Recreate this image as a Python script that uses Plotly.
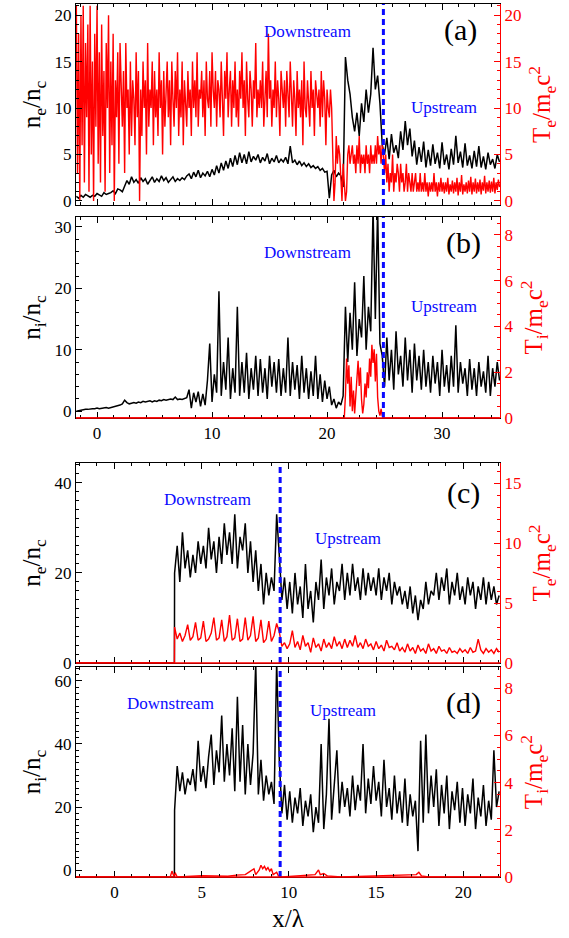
import numpy as np
import plotly.graph_objects as go

# ---------------- panel (a): electron density / temperature, run 1 ----------------
A_X0, A_DX = -1.8, 0.2          # density sample grid for panels (a) and (b)
TE_A_DX = 0.1                   # finer grid for the electron temperature of (a)
ne_a = [0.5,0.3,0.6,0.4,0.7,0.5,0.4,0.6,0.5,0.8,0.6,0.5,0.9,0.7,0.8,
        0.9,1.1,0.8,1.3,1.2,1.0,1.6,
        2.2,1.8,2.6,2.0,2.3,1.9,2.5,2.1,2.4,1.8,2.2,2.6,2.0,
        2.4,2.1,2.7,2.2,2.5,2.0,2.3,2.6,2.1,2.4,2.2,2.5,2.3,2.7,
        2.9,2.4,3.1,2.6,3.3,2.5,3.0,2.7,3.2,2.6,
        3.4,2.8,3.8,3.0,4.1,3.3,4.3,3.5,4.6,3.7,
        4.9,3.9,5.2,4.1,5.0,4.0,5.3,4.2,4.8,4.4,
        5.0,4.1,4.7,4.3,5.1,4.0,4.6,4.2,4.9,4.1,
        4.5,4.2,4.7,4.0,5.9,4.1,4.4,3.9,4.3,3.8,
        4.1,3.7,4.0,3.6,3.8,3.5,3.7,3.3,3.5,3.1,
        3.2,0.3,2.8,3.3,2.6,3.0,2.7,1.5,
        15.5,13.0,11.5,9.0,7.5,9.5,7.0,10.5,8.5,12.0,9.5,11.5,16.5,12.0,13.5,10.5,6.0,
        5.0,6.8,4.5,7.2,5.2,6.0,4.6,7.5,5.5,8.6,
        6.0,7.8,4.8,6.5,3.9,5.8,4.2,6.4,3.6,5.5,
        3.8,6.1,4.0,5.2,3.5,6.3,3.9,5.0,3.4,5.6,
        3.9,7.0,4.1,5.3,3.6,6.2,3.8,4.9,3.5,5.4,
        3.7,5.9,3.6,4.8,3.4,5.2,3.9,4.5,3.5,5.0,4.2]
# one row per unit of x, starting at x = -1.8
te_a = [21,3,18,0,20,6,21,2,17,9,
        19,1,21,5,15,0,18,8,21,4,
        16,2,19,7,14,1,17,10,20,3,
        15,6,18,0,13,9,16,4,17,11,
        8,14,3,17,10,12,5,15,7,13,
        11,6,16,9,14,0,12,7,15,10,
        13,5,17,8,12,10,15,6,14,9,
        12,7,16,10,13,5,14,8,11,15,
        9,13,6,15,11,8,14,10,16,7,
        12,9,15,6,13,11,8,14,10,12,
        7,15,10,13,9,16,8,12,11,14,
        9,13,7,15,11,10,14,8,16,12,
        10,14,8,13,12,9,15,11,7,14,
        11,16,9,12,14,8,13,10,15,9,
        12,8,14,11,16,10,13,7,15,11,
        9,14,12,8,13,11,17,9,12,10,
        13,10,15,8,12,14,9,18,11,13,
        8,12,10,15,9,13,11,7,14,12,
        10,13,8,14,11,9,15,12,8,13,
        11,7,14,10,12,9,13,6,15,10,
        9,13,11,8,14,10,12,7,13,11,
        10,12,8,14,9,13,11,6,12,10,
        9,12,10,5,0,2,7,4,6,5,
        3,0,4,2,0,1,5,6,4,5,
        6,4,5,3,6,4,7,3,5,4,
        5,3,6,4,5,3,6,4,5,4,
        6,4,7,5,6,4,6,5,3,5,
        2,4,1,3,2,5,1,3,2,4,
        3,1,4,2,3,1,2,4,1,3,
        2,1,3,1,2,3,1,2,1,3,
        1,2,1,3,1,2,0.5,2,1,2,
        1,3,1,2,0.5,2,1,2.5,1,2,
        0.8,2,1,2.5,0.7,1.8,1,2.2,0.8,2,
        1,2.5,0.6,2,1,2.8,0.7,1.8,1,2,
        0.8,2.2,1,2.6,0.7,2,1,2.4,0.8,2,
        1,2.3,0.7,2,1.1,2.7,0.8,2,1,2.2,
        0.9,2.1,1,2.5,0.8,2,1.2,2.3,1.5]

# ---------------- panel (b): ion density / temperature, run 1 ----------------
ni_b = [0.0,0.1,0.2,0.2,0.3,0.3,0.4,0.4,0.4,0.5,0.4,0.5,0.5,0.6,0.5,
        0.6,0.6,0.7,0.8,1.0,1.2,1.8,
        1.4,1.2,1.3,1.4,1.3,1.5,1.4,1.6,1.5,1.6,1.7,1.5,1.7,
        1.6,1.8,1.7,1.9,1.8,1.9,2.0,1.9,2.3,1.9,2.0,1.9,2.1,2.2,
        3.5,0.5,3.0,1.5,3.2,0.8,2.8,1.0,5.0,11.0,
        1.5,6.0,3.0,19.5,2.5,8.0,3.5,12.0,2.0,7.0,
        3.0,17.0,2.5,8.0,3.0,9.5,2.0,7.0,3.5,9.0,
        2.5,8.5,3.0,7.0,2.0,9.0,4.0,8.0,3.0,8.5,
        2.5,7.0,3.0,12.0,2.5,8.0,3.5,7.5,2.0,9.0,
        3.0,7.0,2.0,6.5,2.5,9.0,2.0,6.0,1.5,5.0,
        2.0,4.0,1.0,2.0,0.5,1.5,1.0,2.5,
        17,8,16,10,21,9,15,12,22,10,17,13,33,15,33,11,9,
        4,12,5,10,3.5,13,6,9,4,12,
        5,10,3,11,5,9,3.5,10,4,8,
        3,9,4.5,8,2.5,10,4,7.5,3,9,
        4,14,3,8,4.5,7,2.5,8.5,3.5,7,
        2.5,8,4,6.5,3,9,2.5,7,4,8,5]
# ion temperature is only non-zero inside the compressed layer
ti_b_x = [-1.8, 21.5,
          21.6,21.7,21.8,21.9,22.0,22.1,22.2,22.3,22.4,22.5,22.6,
          22.7,22.8,22.9,23.0,23.1,23.2,23.3,23.4,23.5,23.6,23.7,
          23.8,23.9,24.0,24.1,24.2,24.3,24.4,24.5,24.6,24.7,24.8,
          24.9, 35.0]
ti_b = [0.0, 0.0,
        1.0,2.6,1.5,2.3,0.5,1.8,0.3,1.2,0.2,0.9,1.9,
        2.5,1.4,2.2,0.8,0.2,0.6,1.5,0.9,2.0,1.3,2.6,
        1.8,3.2,2.4,3.0,1.6,2.8,0.9,0.3,0.1,0.4,0.1,
        0.0, 0.0]

# ---------------- panels (c), (d): run 2 ----------------
CD_X0, CD_DX = 3.45, 0.15       # sample grid behind the density jump
pre_x = [-2.2, 3.44]            # unperturbed region ahead of the jump
pre_c = [0.0, 0.0]
pre_d = [-2.2, -2.2]
ne_c = [20,26,18,29,21,25,19,24,20,27,22,
        26,21,30,23,27,20,28,22,31,24,29,
        22,33,21,28,25,31,20,27,18,25,16,
        22,13,20,15,19,16,33,24,14,19,12,
        18,11,20,13,17,10,22,12,16,9,18,
        14,23,12,19,15,21,13,18,16,22,14,
        20,15,22,16,19,14,21,15,20,16,19,
        15,21,14,19,16,20,13,18,15,17,13,
        16,12,17,11,15,9.5,14,12,18,13,16,
        15,20,14,19,16,21,13,18,15,20,14,
        17,13,19,15,18,12,17,14,19,13,18,
        14,17,13,15]
te_c = [3.0,2.0,2.5,1.8,2.3,3.2,1.9,2.2,3.4,1.9,2.1,
        3.5,1.8,2.0,2.5,3.8,1.9,2.1,3.6,1.8,2.2,4.0,
        1.9,2.1,3.7,1.8,2.0,3.8,1.9,2.3,3.9,1.8,2.1,
        3.6,1.7,2.0,3.5,1.8,2.3,3.3,2.6,1.4,1.7,1.2,
        1.6,2.7,1.3,1.8,1.1,2.3,1.4,1.7,0.9,2.1,1.3,
        1.6,1.0,2.0,1.3,1.7,1.2,2.2,1.4,1.8,1.2,2.0,
        1.3,1.9,1.4,2.3,1.3,1.7,1.2,2.0,1.4,1.6,1.1,
        1.8,1.2,1.5,1.0,1.9,1.3,1.4,1.1,1.7,1.0,1.3,
        0.9,1.6,1.0,1.3,0.8,1.5,1.0,1.2,0.8,1.6,1.0,
        1.2,0.8,1.4,1.0,1.1,0.8,1.3,0.9,1.0,0.8,1.2,
        0.9,1.1,0.8,1.3,0.9,1.0,2.0,1.1,0.8,1.2,0.9,
        1.1,0.8,1.2,0.9]
ni_d = [19,33,25,31,24,29,27,32,25,41,28,
        33,26,36,43,27,38,31,49,28,40,30,
        45,25,55,28,46,24,40,27,37,66,24,
        35,22,30,24,28,21,66,35,18,27,16,
        25,15,23,18,26,14,22,17,24,12,20,
        15,40,13,24,48,16,27,38,18,28,20,
        26,17,30,19,27,22,40,18,29,21,33,
        22,28,17,35,20,26,16,30,18,25,15,
        29,14,24,17,22,6,41,15,43,18,30,
        20,32,14,27,18,30,13,25,19,28,15,
        26,14,24,18,29,13,23,17,27,14,22,
        16,38,20,25]
ti_d_x = [-2.2,3.2,3.3,3.4,3.5,3.6,5.0,6.5,7.0,7.5,7.8,8.0,8.1,8.3,8.4,8.5,
          8.6,8.7,8.8,8.9,9.0,9.1,9.3,9.4,9.6,10.5,11.5,11.7,11.8,12.0,12.2,
          13.0,16.0,17.3,17.45,17.6,18.0,22.1]
ti_d = [0.0,0.0,0.25,0.05,0.15,0.0,0.05,0.03,0.08,0.1,0.25,0.35,0.1,0.3,0.5,0.35,
        0.45,0.3,0.4,0.25,0.35,0.1,0.2,0.05,0.0,0.05,0.1,0.3,0.1,0.15,0.05,
        0.0,0.05,0.1,0.2,0.05,0.0,0.0]

shock_ab = 24.9
shock_cd = 9.5

FONT = "Liberation Serif, Times New Roman, serif"
RED = "#ff0000"
BLUE = "#0a0aff"

xa = A_X0 + A_DX * np.arange(len(ne_a))
xat = A_X0 + TE_A_DX * np.arange(len(te_a))
xb = A_X0 + A_DX * np.arange(len(ni_b))
xc = np.concatenate([pre_x, CD_X0 + CD_DX * np.arange(len(ne_c))])
xct = np.concatenate([pre_x, CD_X0 + CD_DX * np.arange(len(te_c))])
xd = np.concatenate([pre_x, CD_X0 + CD_DX * np.arange(len(ni_d))])

panels = [
    dict(bx=xa, by=ne_a, rx=xat, ry=te_a, dom=[0.7698, 1.0],
         xr=[-1.83, 35.04], xdt=10, xmin=10/7, lab=False,
         lr=[-0.43, 21.2], ldt=5, lmin=1, rr=[-0.43, 21.2], rdt=5, rmin=1,
         lt="n<sub>e</sub>/n<sub>c</sub>", rt="T<sub>e</sub>/m<sub>e</sub>c<sup>2</sup>",
         shock=shock_ab, tag="(a)", redbase=False,
         ds=(0.545, 0.969), us=(0.868, 0.882), tg=(0.908, 0.970)),
    dict(bx=xb, by=ni_b, rx=ti_b_x, ry=ti_b, dom=[0.5258, 0.7560],
         xr=[-1.83, 35.04], xdt=10, xmin=10/7, lab=True,
         lr=[-1.1, 31.6], ldt=10, lmin=2, rr=[0, 8.78], rdt=2, rmin=0.5,
         lt="n<sub>i</sub>/n<sub>c</sub>", rt="T<sub>i</sub>/m<sub>e</sub>c<sup>2</sup>",
         shock=shock_ab, tag="(b)", redbase=True,
         ds=(0.545, 0.715), us=(0.868, 0.654), tg=(0.913, 0.726)),
    dict(bx=xc, by=pre_c + ne_c, rx=xct, ry=pre_c + te_c, dom=[0.2451, 0.4742],
         xr=[-2.2, 22.1], xdt=5, xmin=1, lab=False,
         lr=[0, 44.4], ldt=20, lmin=2, rr=[0, 16.7], rdt=5, rmin=1,
         lt="n<sub>e</sub>/n<sub>c</sub>", rt="T<sub>e</sub>/m<sub>e</sub>c<sup>2</sup>",
         shock=shock_cd, tag="(c)", redbase=True,
         ds=(0.309, 0.432), us=(0.642, 0.388), tg=(0.913, 0.440)),
    dict(bx=xd, by=pre_d + ni_d, rx=ti_d_x, ry=ti_d, dom=[0.0, 0.2405],
         xr=[-2.2, 22.1], xdt=5, xmin=1, lab=True,
         lr=[-2.2, 64.4], ldt=20, lmin=2, rr=[0, 8.9], rdt=2, rmin=0.5,
         lt="n<sub>i</sub>/n<sub>c</sub>", rt="T<sub>i</sub>/m<sub>e</sub>c<sup>2</sup>",
         shock=shock_cd, tag="(d)", redbase=True,
         ds=(0.224, 0.199), us=(0.630, 0.191), tg=(0.913, 0.199)),
]

fig = go.Figure()
layout = dict(width=569, height=938, showlegend=False,
              paper_bgcolor="white", plot_bgcolor="white",
              margin=dict(l=76, r=69, t=4, b=61),
              font=dict(family=FONT, size=17, color="black"))
shapes, annotations = [], []

for i, p in enumerate(panels):
    n = i + 1
    xl = f"x{n}" if n > 1 else "x"
    yl_n, yr_n = 2 * n - 1, 2 * n
    yl = f"y{yl_n}" if yl_n > 1 else "y"
    yr = f"y{yr_n}"

    fig.add_trace(go.Scatter(x=p["bx"], y=p["by"], mode="lines",
                             line=dict(color="black", width=1.5),
                             xaxis=xl, yaxis=yl))
    fig.add_trace(go.Scatter(x=p["rx"], y=p["ry"], mode="lines",
                             line=dict(color=RED, width=1.4),
                             xaxis=xl, yaxis=yr))

    xkey = "xaxis" if n == 1 else f"xaxis{n}"
    ylkey = "yaxis" if yl_n == 1 else f"yaxis{yl_n}"
    yrkey = f"yaxis{yr_n}"

    layout[xkey] = dict(
        domain=[0, 1], anchor=yl, range=p["xr"], showgrid=False, zeroline=False,
        showline=True, linecolor="black", linewidth=1, mirror="ticks",
        ticks="inside", ticklen=6, tickcolor="black", tick0=0, dtick=p["xdt"],
        minor=dict(ticks="inside", ticklen=3, tickcolor="black", tick0=0, dtick=p["xmin"]),
        showticklabels=p["lab"], tickfont=dict(family=FONT, size=17, color="black"))
    layout[ylkey] = dict(
        domain=p["dom"], anchor=xl, side="left", range=p["lr"],
        showgrid=False, zeroline=False, showline=True, linecolor="black", linewidth=1,
        ticks="inside", ticklen=6, tickcolor="black", tick0=0, dtick=p["ldt"],
        minor=dict(ticks="inside", ticklen=3, tickcolor="black", tick0=0, dtick=p["lmin"]),
        tickfont=dict(family=FONT, size=17, color="black"),
        title=dict(text=p["lt"], font=dict(family=FONT, size=25, color="black"), standoff=6))
    layout[yrkey] = dict(
        overlaying=yl, anchor=xl, side="right", range=p["rr"],
        showgrid=False, zeroline=False, showline=True, linecolor=RED, linewidth=1,
        ticks="inside", ticklen=6, tickcolor=RED, tick0=0, dtick=p["rdt"],
        minor=dict(ticks="inside", ticklen=3, tickcolor=RED, tick0=0, dtick=p["rmin"]),
        tickfont=dict(family=FONT, size=17, color=RED),
        title=dict(text=p["rt"], font=dict(family=FONT, size=25, color=RED), standoff=12))

    # shock position
    shapes.append(dict(type="line", xref=xl, yref=f"{yl} domain",
                       x0=p["shock"], x1=p["shock"], y0=0, y1=1,
                       line=dict(color=BLUE, width=3, dash="6px,4px")))
    if p["redbase"]:
        shapes.append(dict(type="line", xref=f"{xl} domain", yref=f"{yl} domain",
                           x0=0, x1=1, y0=0, y1=0, line=dict(color=RED, width=1.5)))

    common = dict(xref="paper", yref="paper", xanchor="center", yanchor="middle",
                  showarrow=False)
    annotations += [
        dict(text="Downstream", x=p["ds"][0], y=p["ds"][1],
             font=dict(family=FONT, size=17, color=BLUE), **common),
        dict(text="Upstream", x=p["us"][0], y=p["us"][1],
             font=dict(family=FONT, size=17, color=BLUE), **common),
        dict(text=p["tag"], x=p["tg"][0], y=p["tg"][1],
             font=dict(family=FONT, size=30, color="black"), **common),
    ]

layout["xaxis4"]["title"] = dict(text="x/λ", font=dict(family=FONT, size=25, color="black"),
                                 standoff=8)
layout["shapes"] = shapes
layout["annotations"] = annotations
fig.update_layout(**layout)

fig.write_html("out.html")
